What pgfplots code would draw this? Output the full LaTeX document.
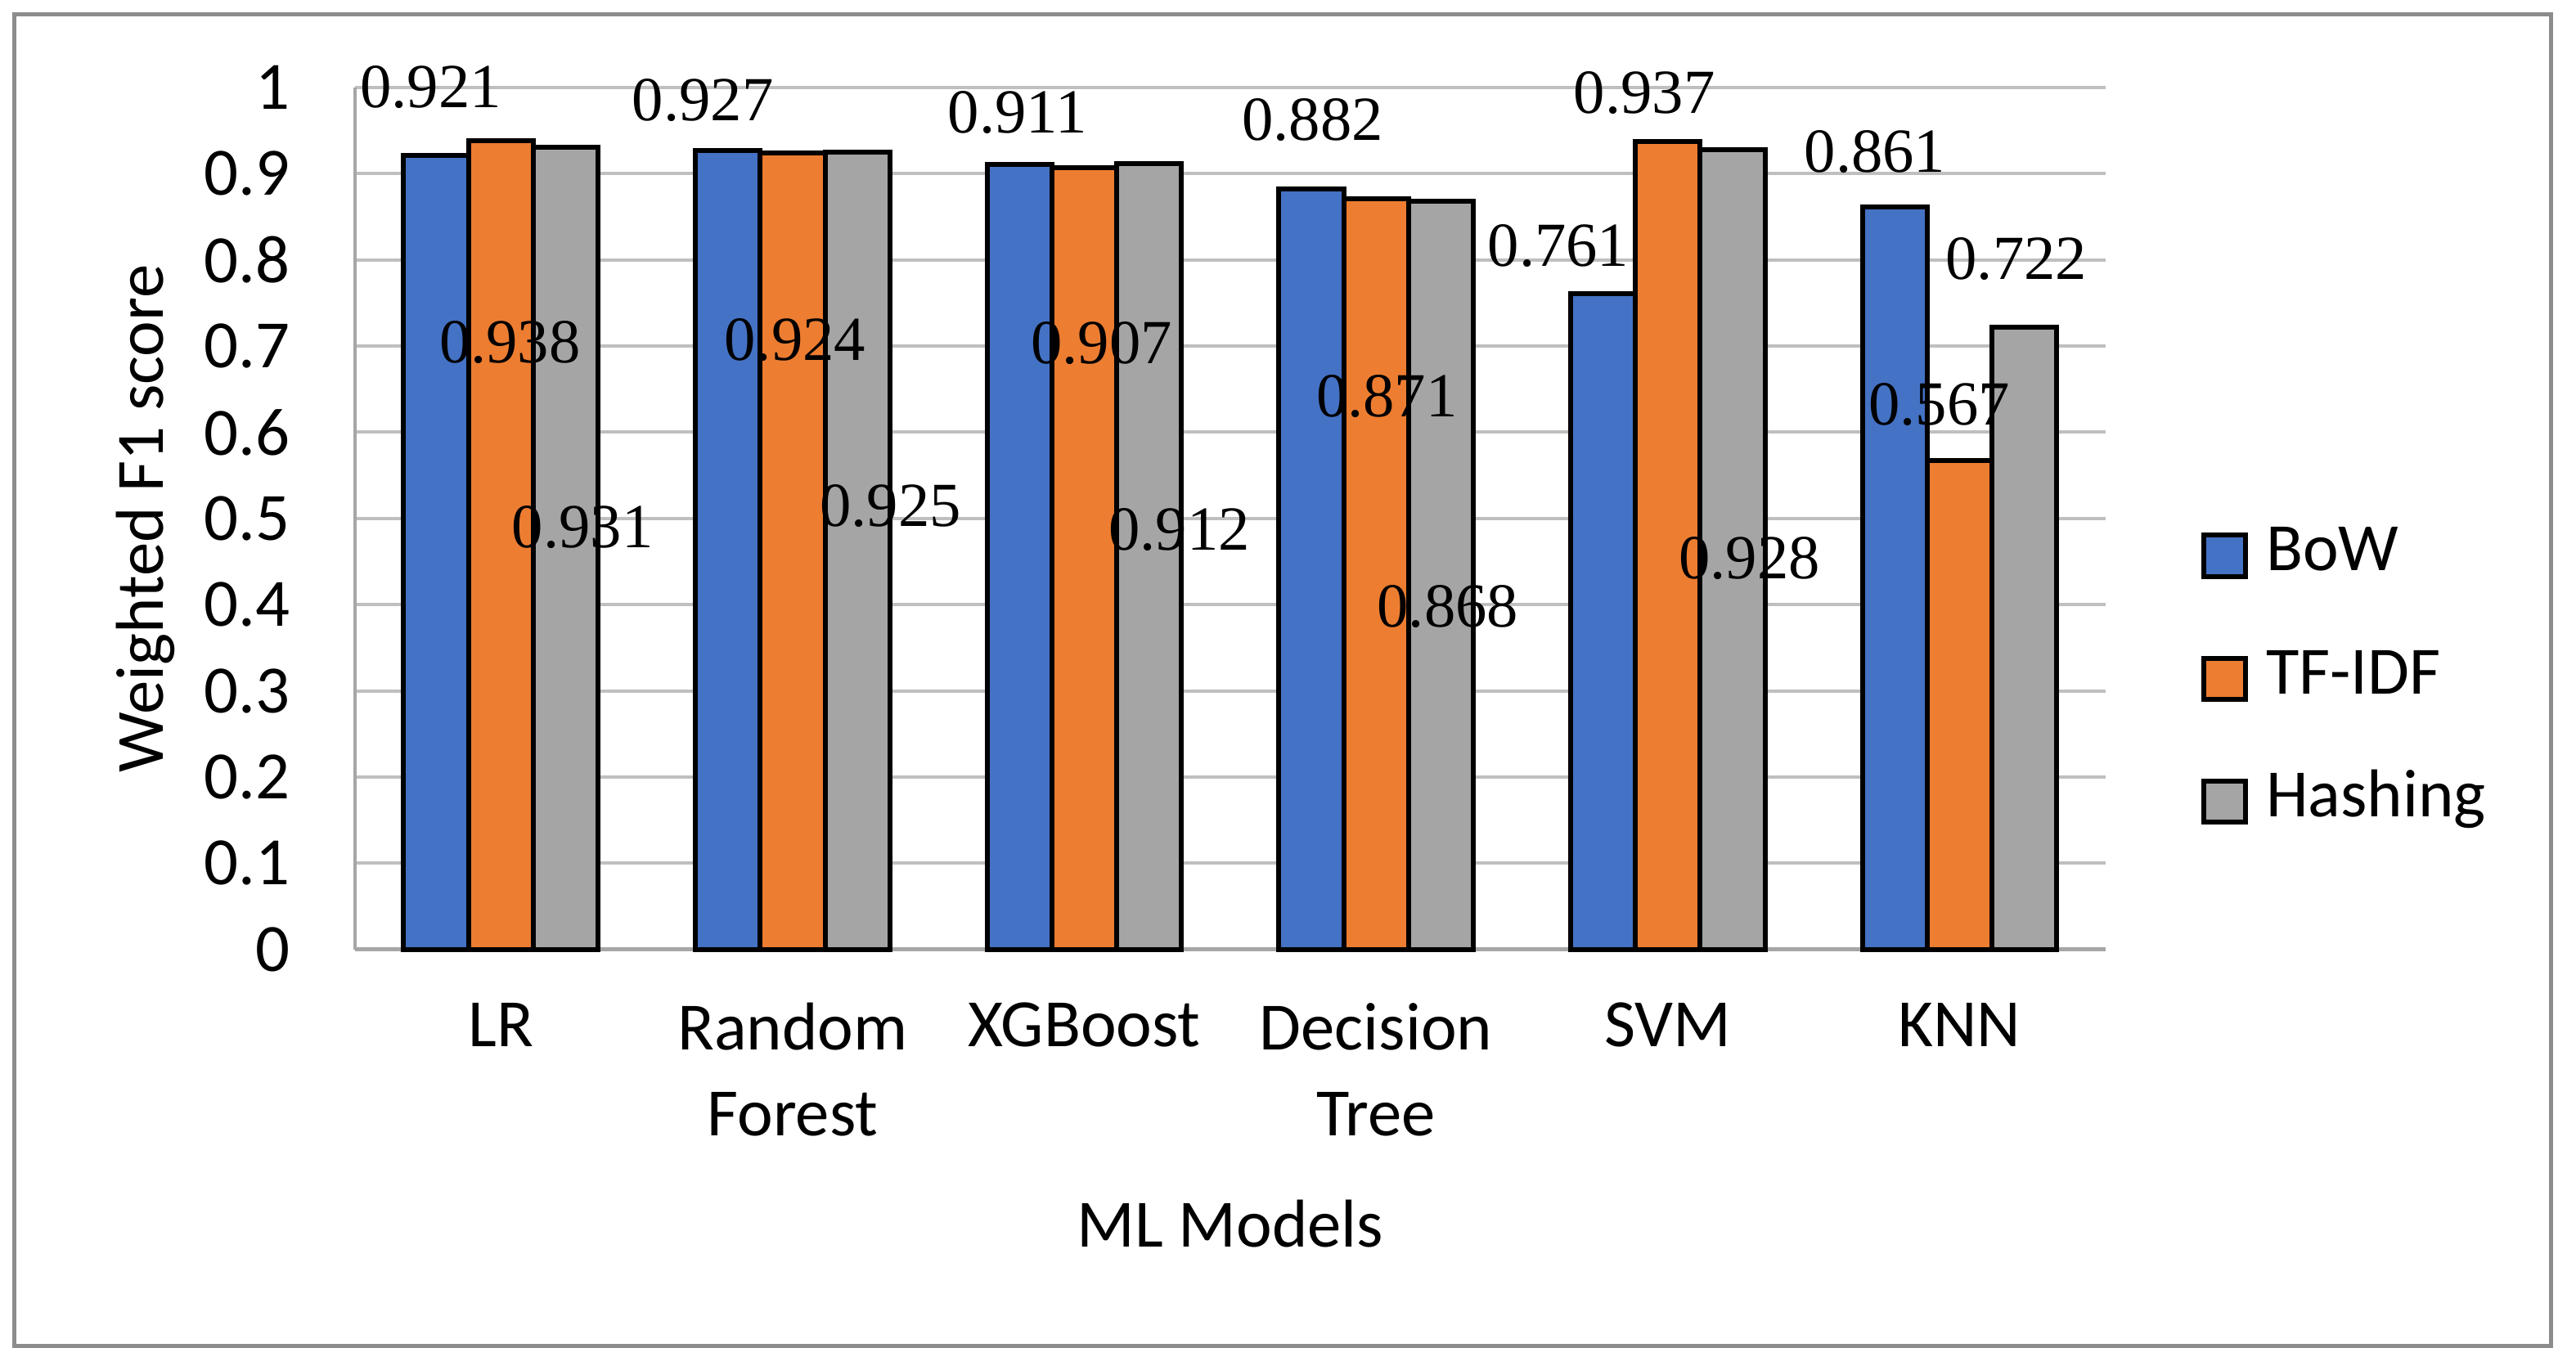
\documentclass[border=0pt]{standalone}
\usepackage{fontspec}
\setmainfont{Carlito}
\newfontfamily\timesfont{Liberation Serif}
\usepackage{pgfplots}
\pgfplotsset{compat=1.18}

\definecolor{bowblue}{HTML}{4472C4}
\definecolor{tforange}{HTML}{ED7D31}
\definecolor{hashgray}{HTML}{A5A5A5}
\definecolor{gridgray}{HTML}{BFBFBF}
\definecolor{axisgray}{HTML}{A6A6A6}
\definecolor{framegray}{HTML}{8C8C8C}

\newcommand\lblfont{\timesfont\fontsize{19}{20}\selectfont}
\newcommand\txtfont{\fontsize{20.5}{24}\selectfont}

\begin{document}
\begin{tikzpicture}
\useasboundingbox (-107.5pt,-126pt) rectangle (672.5pt,287.5pt);
\draw[framegray, line width=1.2pt] (-103.25pt,-120pt) rectangle (665pt,283.25pt);
\begin{axis}[
    at={(0pt,0pt)}, anchor=south west,
    scale only axis,
    width=530pt, height=261pt,
    ybar=0pt, bar width=0.2222,
    xmin=-0.5, xmax=5.5,
    ymin=0, ymax=1,
    xtick={0,1,2,3,4,5},
    xticklabels={LR, {Random\\Forest}, XGBoost, {Decision\\Tree}, SVM, KNN},
    ytick={0,0.1,0.2,0.3,0.4,0.5,0.6,0.7,0.8,0.9,1},
    /pgf/number format/assume math mode=true,
    axis x line*=bottom, axis y line*=left,
    x axis line style={draw=axisgray, line width=1.2pt, -},
    y axis line style={draw=axisgray, line width=1.2pt, -},
    major tick length=0pt,
    ymajorgrids, grid style={gridgray, line width=1pt},
    yticklabel style={anchor=east, inner sep=0pt, xshift=-19.5pt, font=\txtfont},
    xticklabel style={anchor=north, inner sep=0pt, yshift=-16pt, align=center, font=\fontsize{20.5}{26}\selectfont},
    xlabel={ML Models},
    ylabel={Weighted F1 score},
    every axis x label/.style={at={(axis description cs:0.5,-0.318)}, anchor=center, inner sep=0pt, font=\txtfont},
    every axis y label/.style={at={(axis description cs:-0.1196,0.5)}, rotate=90, anchor=center, inner sep=0pt, font=\txtfont},
    legend image code/.code={\draw[#1, line width=1.5pt] (0pt,-6.25pt) rectangle (12.5pt,6.25pt);},
    legend cell align=left,
    legend style={at={(rel axis cs:1.0546,0.314)}, anchor=west, draw=none, fill=none,
        inner sep=0pt, row sep=20.25pt, column sep=5.5pt,
        font=\txtfont,
        nodes={inner sep=0pt, text height=13pt, text depth=4pt}},
    clip=false,
]

\addplot[fill=bowblue, draw=black, line width=1.5pt]
    coordinates {(0,0.921)(1,0.927)(2,0.911)(3,0.882)(4,0.761)(5,0.861)};
\addlegendentry{BoW}

\addplot[fill=tforange, draw=black, line width=1.5pt]
    coordinates {(0,0.938)(1,0.924)(2,0.907)(3,0.871)(4,0.937)(5,0.567)};
\addlegendentry{TF-IDF}

\addplot[fill=hashgray, draw=black, line width=1.5pt]
    coordinates {(0,0.931)(1,0.925)(2,0.912)(3,0.868)(4,0.928)(5,0.722)};
\addlegendentry{Hashing}

% data labels, placed where the original chart has them
\node[font=\lblfont] at (axis cs:-0.240,1.000) {0.921};
\node[font=\lblfont] at (axis cs:0.031,0.704) {0.938};
\node[font=\lblfont] at (axis cs:0.280,0.490) {0.931};
\node[font=\lblfont] at (axis cs:0.692,0.985) {0.927};
\node[font=\lblfont] at (axis cs:1.008,0.707) {0.924};
\node[font=\lblfont] at (axis cs:1.336,0.515) {0.925};
\node[font=\lblfont] at (axis cs:1.771,0.971) {0.911};
\node[font=\lblfont] at (axis cs:2.059,0.703) {0.907};
\node[font=\lblfont] at (axis cs:2.325,0.487) {0.912};
\node[font=\lblfont] at (axis cs:2.782,0.962) {0.882};
\node[font=\lblfont] at (axis cs:3.037,0.642) {0.871};
\node[font=\lblfont] at (axis cs:3.246,0.398) {0.868};
\node[font=\lblfont] at (axis cs:3.625,0.816) {0.761};
\node[font=\lblfont] at (axis cs:3.920,0.994) {0.937};
\node[font=\lblfont] at (axis cs:4.280,0.454) {0.928};
\node[font=\lblfont] at (axis cs:4.710,0.925) {0.861};
\node[font=\lblfont] at (axis cs:4.930,0.632) {0.567};
\node[font=\lblfont] at (axis cs:5.195,0.801) {0.722};

\end{axis}
\end{tikzpicture}
\end{document}
